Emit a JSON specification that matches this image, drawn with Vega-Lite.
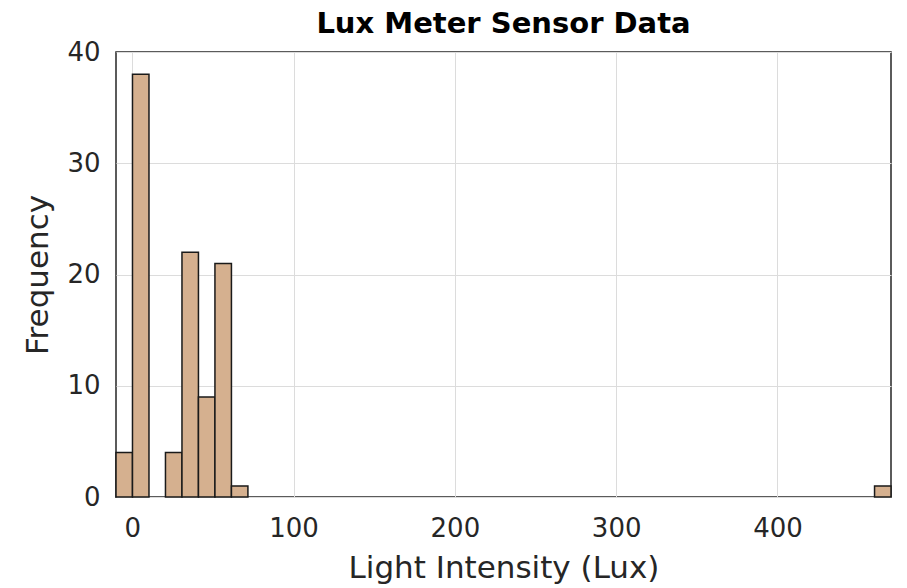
{
  "$schema": "https://vega.github.io/schema/vega-lite/v6.json",
  "width": 775,
  "height": 445,
  "autosize": {"type": "none"},
  "padding": {"left": 116, "top": 52, "right": 16, "bottom": 91},
  "background": "white",
  "title": {
    "text": "Lux Meter Sensor Data",
    "font": "DejaVu Sans",
    "fontSize": 29,
    "fontWeight": "bold",
    "color": "#000000",
    "anchor": "middle",
    "offset": 0
  },
  "config": {
    "view": {"stroke": "#262626", "strokeWidth": 1.5},
    "font": "DejaVu Sans"
  },
  "data": {
    "values": [
      {"bin_start": -10.1, "bin_end": 0.12, "count": 4},
      {"bin_start": 0.12, "bin_end": 10.35, "count": 38},
      {"bin_start": 20.57, "bin_end": 30.8, "count": 4},
      {"bin_start": 30.8, "bin_end": 41.02, "count": 22},
      {"bin_start": 41.02, "bin_end": 51.24, "count": 9},
      {"bin_start": 51.24, "bin_end": 61.47, "count": 21},
      {"bin_start": 61.47, "bin_end": 71.69, "count": 1},
      {"bin_start": 460.2, "bin_end": 470.4, "count": 1}
    ]
  },
  "mark": {"type": "bar", "fill": "#d5b08f", "stroke": "#1a1a1a", "strokeWidth": 1.5},
  "encoding": {
    "x": {
      "field": "bin_start",
      "type": "quantitative",
      "scale": {"domain": [-10.1, 470.4], "nice": false, "zero": false},
      "axis": {
        "title": "Light Intensity (Lux)",
        "values": [0, 100, 200, 300, 400],
        "ticks": false,
        "domain": false,
        "grid": true,
        "gridColor": "#dcdcdc",
        "gridWidth": 1,
        "labelFont": "DejaVu Sans",
        "labelFontSize": 26,
        "labelColor": "#262626",
        "labelPadding": 18,
        "labelFlush": false,
        "titleFont": "DejaVu Sans",
        "titleFontSize": 31,
        "titleFontWeight": "normal",
        "titleColor": "#262626",
        "titlePadding": 12
      }
    },
    "x2": {"field": "bin_end"},
    "y": {
      "field": "count",
      "type": "quantitative",
      "scale": {"domain": [0, 40], "nice": false},
      "axis": {
        "title": "Frequency",
        "values": [0, 10, 20, 30, 40],
        "ticks": false,
        "domain": false,
        "grid": true,
        "gridColor": "#dcdcdc",
        "gridWidth": 1,
        "labelFont": "DejaVu Sans",
        "labelFontSize": 26,
        "labelColor": "#262626",
        "labelPadding": 16,
        "labelFlush": false,
        "titleFont": "DejaVu Sans",
        "titleFontSize": 31,
        "titleFontWeight": "normal",
        "titleColor": "#262626",
        "titlePadding": 12
      }
    },
    "y2": {"datum": 0}
  }
}
